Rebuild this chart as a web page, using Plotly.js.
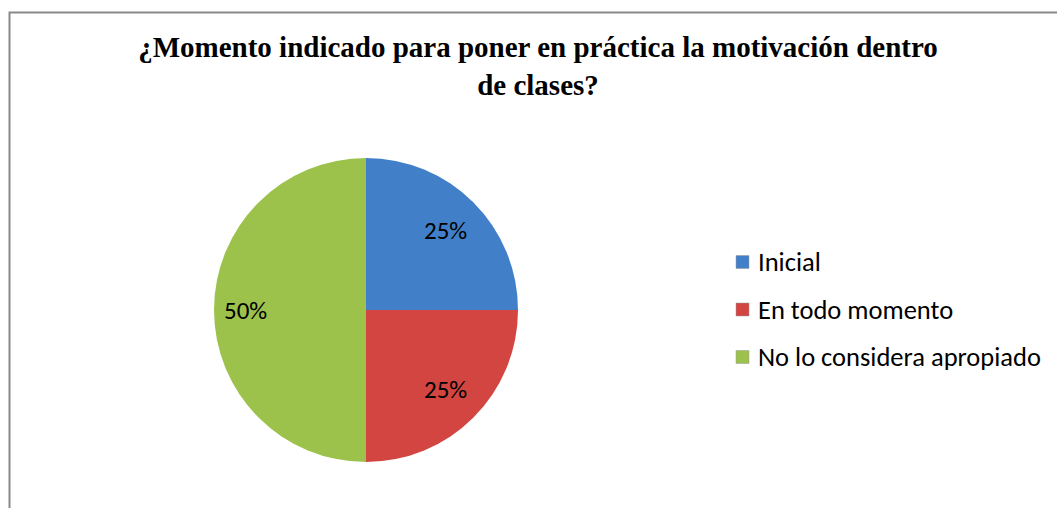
<!DOCTYPE html>
<html>
<head>
<meta charset="utf-8">
<script src="https://cdn.plot.ly/plotly-3.0.1.min.js"></script>
<style>html,body{margin:0;padding:0;background:#fff;}#chart{width:1057px;height:508px;}</style>
</head>
<body>
<div id="chart"></div>
<script>
const categories = ["Inicial", "En todo momento", "No lo considera apropiado"];
const values = [25, 25, 50];
const colors = ["#4180C8", "#D24541", "#9CC24C"];
const titleText = "¿Momento indicado para poner en práctica la motivación dentro<br>de clases?";

const W = 1057, H = 508;
const labelFont = "Carlito, 'Noto Sans', sans-serif";
const cx = 366, cy = 310, R = 152;

const trace = {
  type: "pie",
  labels: categories,
  values: values,
  sort: false,
  direction: "clockwise",
  rotation: 0,
  marker: {colors: colors, line: {width: 0}},
  textinfo: "none",
  domain: {x: [(cx - R) / W, (cx + R) / W], y: [(H - cy - R) / H, (H - cy + R) / H]},
  showlegend: false,
  hoverinfo: "label+percent"
};

const annotations = [];
const shapes = [{
  type: "rect", xref: "paper", yref: "paper",
  x0: 9.5 / W, x1: 1.05, y0: -0.05, y1: 1 - 12.5 / H,
  line: {color: "#898989", width: 2}, fillcolor: "rgba(0,0,0,0)", layer: "below"
}];

// percentage labels placed at the middle angle of each slice
const total = values.reduce((a, b) => a + b, 0);
let cum = 0;
values.forEach((v, i) => {
  const mid = (cum + v / 2) / total * 2 * Math.PI; // clockwise from 12 o'clock
  cum += v;
  const rf = v / total >= 0.5 ? 0.79 : 0.74;
  const px = cx + rf * R * Math.sin(mid);
  const py = cy - rf * R * Math.cos(mid);
  annotations.push({
    text: Math.round(v / total * 100) + "%", xref: "paper", yref: "paper",
    x: px / W, y: 1 - py / H, xanchor: "center", yanchor: "middle",
    showarrow: false, font: {family: labelFont, size: 25, color: "#000"}
  });
});

// legend drawn from the category arrays
const legX = 756, legY0 = 262, legStep = 47.5;
categories.forEach((c, i) => {
  const yc = legY0 + i * legStep;
  annotations.push({
    text: c, xref: "paper", yref: "paper",
    x: legX / W, y: 1 - yc / H, xanchor: "left", yanchor: "middle",
    showarrow: false, font: {family: labelFont, size: 26.5, color: "#000"}
  });
  shapes.push({
    type: "rect", xref: "paper", yref: "paper",
    x0: 736 / W, x1: 749 / W, y0: 1 - (yc + 6.5) / H, y1: 1 - (yc - 6.5) / H,
    fillcolor: colors[i], line: {color: "#999", width: 0.5}
  });
});

const layout = {
  width: W, height: H,
  margin: {l: 0, r: 0, t: 0, b: 0},
  paper_bgcolor: "#fff",
  title: {
    text: titleText,
    font: {family: "'Liberation Serif', 'Times New Roman', serif", size: 29, color: "#000", weight: "bold"},
    x: 538 / W, xanchor: "center", xref: "paper",
    y: 1 - 57 / H, yanchor: "top", yref: "container"
  },
  annotations: annotations,
  shapes: shapes
};

Plotly.newPlot("chart", [trace], layout, {displayModeBar: false, staticPlot: true});
</script>
</body>
</html>
